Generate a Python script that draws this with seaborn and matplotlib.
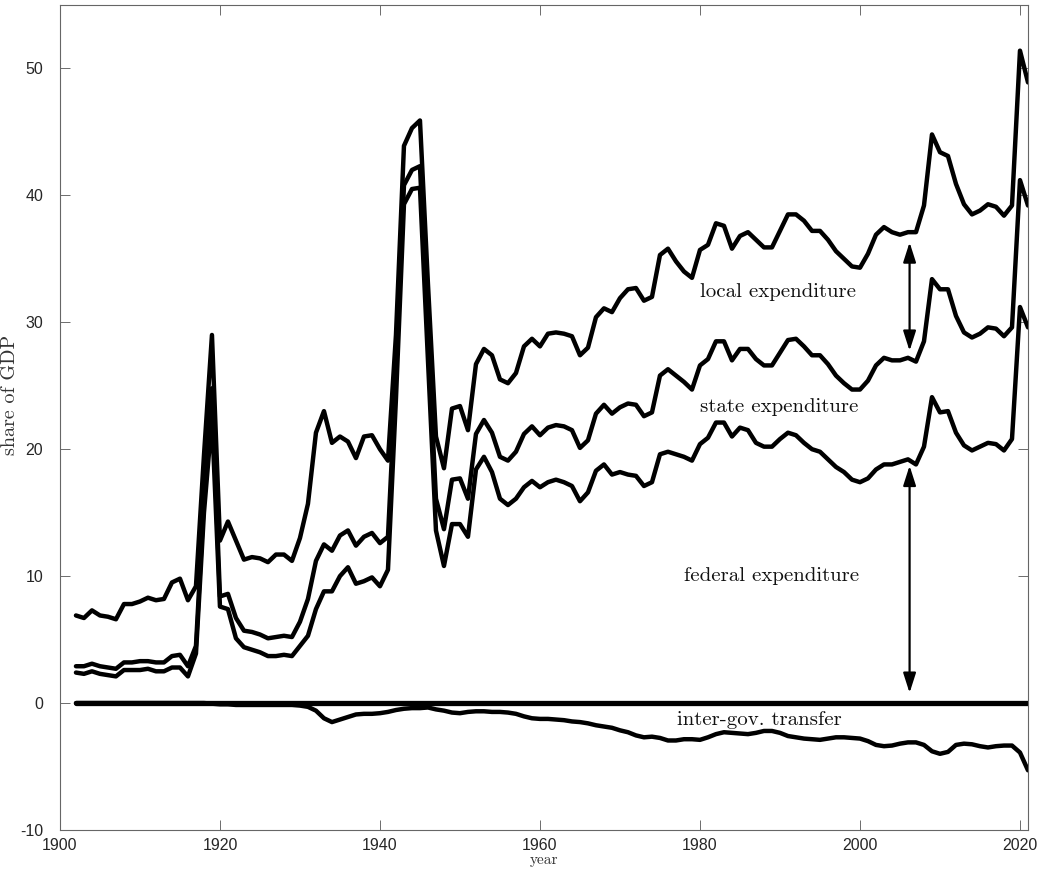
import numpy as np
import pandas as pd
import seaborn as sns
import matplotlib
import matplotlib.pyplot as plt

matplotlib.use("Agg")

years = np.arange(1902, 2022)

# total expenditure (federal + state + local), share of GDP
total = [
    6.9, 6.7, 7.3, 6.9, 6.8, 6.6, 7.8, 7.8, 8.0, 8.3,
    8.1, 8.2, 9.5, 9.8, 8.1, 9.2, 19.5, 29.0, 12.8, 14.3,
    12.8, 11.3, 11.5, 11.4, 11.1, 11.7, 11.7, 11.2, 13.0, 15.7,
    21.3, 23.0, 20.5, 21.0, 20.6, 19.3, 21.0, 21.1, 20.0, 19.1,
    29.0, 43.9, 45.3, 45.9, 33.0, 21.0, 18.5, 23.2, 23.4, 21.5,
    26.7, 27.9, 27.4, 25.5, 25.2, 26.0, 28.1, 28.7, 28.1, 29.1,
    29.2, 29.1, 28.9, 27.4, 28.0, 30.4, 31.1, 30.8, 31.9, 32.6,
    32.7, 31.7, 32.0, 35.3, 35.8, 34.8, 34.0, 33.5, 35.7, 36.1,
    37.8, 37.6, 35.8, 36.8, 37.1, 36.5, 35.9, 35.9, 37.2, 38.5,
    38.5, 38.0, 37.2, 37.2, 36.5, 35.6, 35.0, 34.4, 34.3, 35.4,
    36.9, 37.5, 37.1, 36.9, 37.1, 37.1, 39.2, 44.8, 43.4, 43.1,
    40.9, 39.3, 38.5, 38.8, 39.3, 39.1, 38.4, 39.2, 51.4, 48.9,
]

# federal + state expenditure
fed_state = [
    2.9, 2.9, 3.1, 2.9, 2.8, 2.7, 3.2, 3.2, 3.3, 3.3,
    3.2, 3.2, 3.7, 3.8, 2.9, 4.5, 16.0, 24.8, 8.4, 8.6,
    6.7, 5.7, 5.6, 5.4, 5.1, 5.2, 5.3, 5.2, 6.4, 8.2,
    11.2, 12.5, 12.0, 13.2, 13.6, 12.4, 13.1, 13.4, 12.6, 13.1,
    26.0, 40.8, 42.0, 42.3, 29.0, 16.1, 13.7, 17.6, 17.7, 16.1,
    21.2, 22.3, 21.3, 19.4, 19.1, 19.8, 21.2, 21.8, 21.1, 21.7,
    21.9, 21.8, 21.5, 20.1, 20.7, 22.8, 23.5, 22.8, 23.3, 23.6,
    23.5, 22.6, 22.9, 25.8, 26.3, 25.8, 25.3, 24.7, 26.6, 27.1,
    28.5, 28.5, 27.0, 27.9, 27.9, 27.1, 26.6, 26.6, 27.6, 28.6,
    28.7, 28.1, 27.4, 27.4, 26.7, 25.8, 25.2, 24.7, 24.7, 25.4,
    26.6, 27.2, 27.0, 27.0, 27.2, 26.9, 28.5, 33.4, 32.6, 32.6,
    30.5, 29.2, 28.8, 29.1, 29.6, 29.5, 28.9, 29.6, 41.2, 39.2,
]

# federal expenditure
federal = [
    2.4, 2.3, 2.5, 2.3, 2.2, 2.1, 2.6, 2.6, 2.6, 2.7,
    2.5, 2.5, 2.8, 2.8, 2.1, 3.9, 15.0, 22.5, 7.6, 7.4,
    5.1, 4.4, 4.2, 4.0, 3.7, 3.7, 3.8, 3.7, 4.5, 5.3,
    7.4, 8.8, 8.8, 10.0, 10.7, 9.4, 9.6, 9.9, 9.2, 10.5,
    24.0, 39.3, 40.5, 40.6, 27.0, 13.6, 10.8, 14.1, 14.1, 13.1,
    18.4, 19.4, 18.2, 16.1, 15.6, 16.1, 17.0, 17.5, 17.0, 17.4,
    17.6, 17.4, 17.1, 15.9, 16.6, 18.3, 18.8, 18.0, 18.2, 18.0,
    17.9, 17.1, 17.4, 19.6, 19.8, 19.6, 19.4, 19.1, 20.4, 20.9,
    22.1, 22.1, 21.0, 21.7, 21.5, 20.5, 20.2, 20.2, 20.8, 21.3,
    21.1, 20.5, 20.0, 19.8, 19.2, 18.6, 18.2, 17.6, 17.4, 17.7,
    18.4, 18.8, 18.8, 19.0, 19.2, 18.8, 20.2, 24.1, 22.9, 23.0,
    21.3, 20.3, 19.9, 20.2, 20.5, 20.4, 19.9, 20.8, 31.2, 29.6,
]

# inter-governmental transfers (negative)
transfer = [
    0.0, 0.0, 0.0, 0.0, 0.0, 0.0, 0.0, 0.0, 0.0, 0.0,
    0.0, 0.0, 0.0, 0.0, 0.0, 0.0, 0.0, -0.05, -0.1, -0.1,
    -0.15, -0.15, -0.15, -0.15, -0.15, -0.15, -0.15, -0.15, -0.2, -0.3,
    -0.6, -1.2, -1.5, -1.3, -1.1, -0.9, -0.85, -0.85, -0.8, -0.7,
    -0.55, -0.45, -0.4, -0.4, -0.35, -0.5, -0.6, -0.75, -0.8, -0.7,
    -0.65, -0.65, -0.7, -0.7, -0.75, -0.85, -1.05, -1.2, -1.25, -1.25,
    -1.3, -1.35, -1.45, -1.5, -1.6, -1.75, -1.85, -1.95, -2.15, -2.3,
    -2.55, -2.7, -2.65, -2.75, -2.95, -2.95, -2.85, -2.85, -2.9, -2.7,
    -2.45, -2.3, -2.35, -2.4, -2.45, -2.35, -2.2, -2.2, -2.35, -2.6,
    -2.7, -2.8, -2.85, -2.9, -2.8, -2.7, -2.7, -2.75, -2.8, -3.0,
    -3.3, -3.4, -3.35, -3.2, -3.1, -3.1, -3.3, -3.8, -4.0, -3.85,
    -3.3, -3.2, -3.25, -3.4, -3.5, -3.4, -3.35, -3.35, -3.9, -5.3,
]

baseline = [0.0] * len(years)

labels = ["local expenditure", "state expenditure", "federal expenditure", "inter-gov. transfer"]
label_x = [1989.8, 1989.9, 1989.0, 1987.4]
label_y = [32.4, 23.35, 10.0, -1.3]

arrow_year = 2006.2
arrow_ends = [(36.3, 27.75), (18.7, 0.8)]


def main():
    sns.set_style("white")
    plt.rcParams["axes.unicode_minus"] = False
    plt.rcParams["font.family"] = ["Liberation Sans", "DejaVu Sans"]

    fig = plt.figure(figsize=(10.39, 8.73), dpi=100)
    ax = fig.add_axes([0.0577, 0.0493, 0.9317, 0.945])

    for vals, lw in [(total, 3.2), (fed_state, 3.2), (federal, 3.2), (baseline, 3.8), (transfer, 3.2)]:
        sns.lineplot(x=years, y=vals, ax=ax, color="black", linewidth=lw)

    for (top, bot) in arrow_ends:
        ax.annotate("", xy=(arrow_year, bot), xytext=(arrow_year, top),
                    arrowprops=dict(arrowstyle="<|-|>,head_length=1.0,head_width=0.32",
                                    mutation_scale=12, color="black", lw=1.6,
                                    shrinkA=0, shrinkB=0))

    for txt, x, y in zip(labels, label_x, label_y):
        ax.text(x, y, txt, ha="center", va="center", fontsize=15, family="cmr10", color="#111111")

    ax.set_xlim(1900, 2021)
    ax.set_ylim(-10, 55)
    ax.set_xticks(range(1900, 2021, 20))
    ax.set_yticks(range(-10, 51, 10))

    ax.tick_params(axis="both", direction="in", length=7, width=0.6, color="#555555",
                   labelsize=11.5, labelcolor="#262626",
                   bottom=True, left=True, top=True, right=True)
    ax.tick_params(axis="y", pad=12)
    ax.tick_params(axis="x", pad=6)
    for sp in ax.spines.values():
        sp.set_color("#666666")
        sp.set_linewidth(0.8)
        sp.set_visible(True)

    ax.set_xlabel("year", family="cmr10", fontsize=11, color="#333333")
    ax.set_ylabel("share of GDP", family="cmr10", fontsize=14.5, color="#333333")
    ax.xaxis.set_label_coords(0.5, -0.028)
    ax.yaxis.set_label_coords(-0.042, 0.527)

    fig.savefig("out.png", dpi=100)


if __name__ == "__main__":
    main()
